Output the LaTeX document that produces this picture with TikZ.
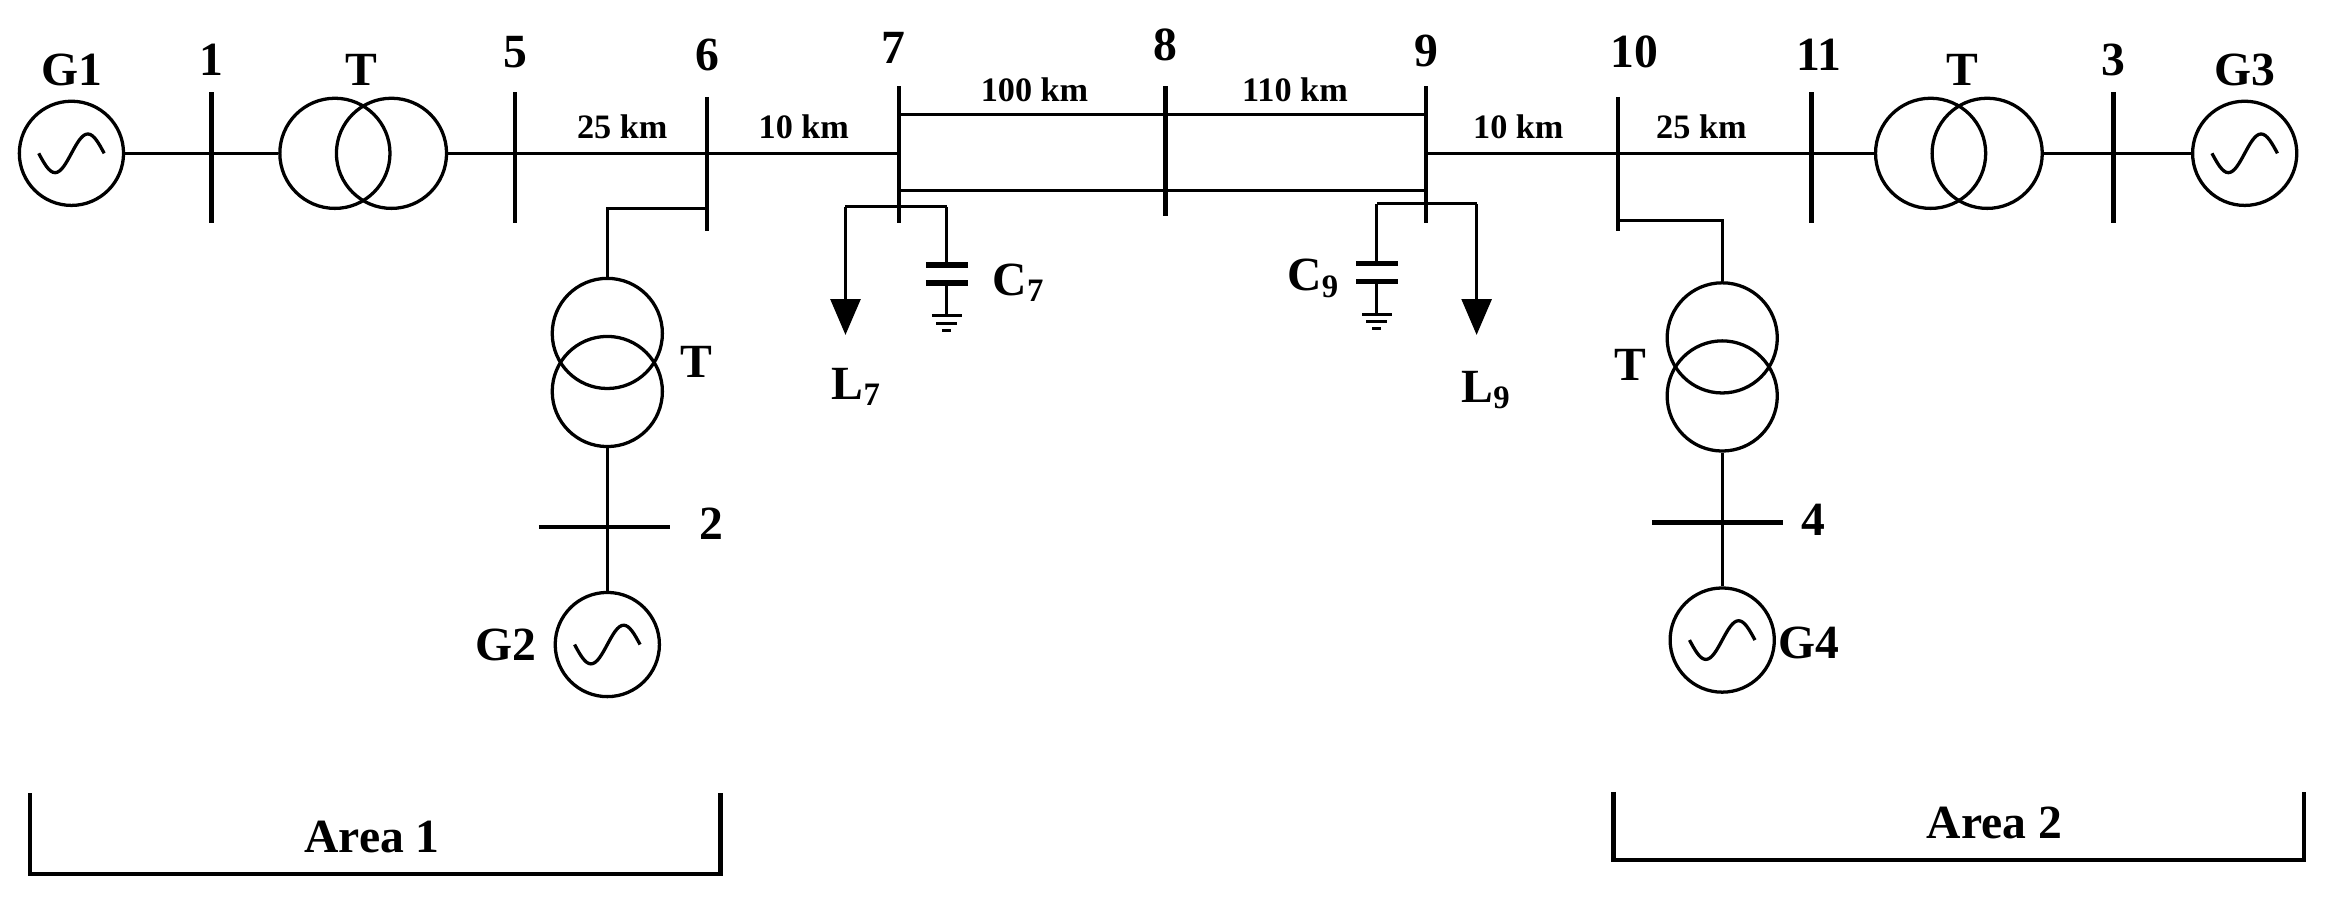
\documentclass[tikz,border=0pt]{standalone}
\usepackage{fontspec}
\setmainfont{Liberation Serif}
\usetikzlibrary{arrows.meta}
\begin{document}
\begin{tikzpicture}[x=0.5pt,y=-0.5pt,
  wire/.style={line width=1pt},
  busbar/.style={line width=1.6pt},
  plate/.style={line width=1.8pt},
  coil/.style={draw,circle,line width=1.1pt,minimum size=37pt,inner sep=0pt},
  gen/.style={draw,circle,line width=1.1pt,minimum size=35pt,inner sep=0pt},
  lbl/.style={font=\fontsize{16}{18}\selectfont\bfseries},
  km/.style={font=\fontsize{11.5}{13}\selectfont\bfseries},
  loadarrow/.style={wire,-{Triangle[length=12pt,width=10pt]}},
  bracket/.style={line width=1.4pt}]
\useasboundingbox (0,0) rectangle (1568,605);
% generators
\node[gen] (g1) at (48,103) {};
\node[gen] (g3) at (1508,103) {};
\node[gen] (g2) at (408,433) {};
\node[gen] (g4) at (1157,430) {};
\foreach \n in {g1,g2,g3,g4}{
  \draw[line width=1.1pt] ([xshift=-11pt]\n.center) sin ([xshift=-5.5pt,yshift=-6.5pt]\n.center) cos (\n.center) sin ([xshift=5.5pt,yshift=6.5pt]\n.center) cos ([xshift=11pt]\n.center);}
% transformers
\node[coil] (t1a) at (225,103) {};
\node[coil] (t1b) at (263,103) {};
\node[coil] (t3a) at (1297,103) {};
\node[coil] (t3b) at (1335,103) {};
\node[coil] (t2a) at (408,224) {};
\node[coil] (t2b) at (408,263) {};
\node[coil] (t4a) at (1157,227) {};
\node[coil] (t4b) at (1157,266) {};
% buses
\coordinate (b1t) at (142,62); \coordinate (b1b) at (142,150);
\coordinate (b5t) at (346,62); \coordinate (b5b) at (346,150);
\coordinate (b6t) at (475,65); \coordinate (b6b) at (475,155);
\coordinate (b7t) at (604,58); \coordinate (b7b) at (604,150);
\coordinate (b8t) at (783,58); \coordinate (b8b) at (783,145);
\coordinate (b9t) at (958,58); \coordinate (b9b) at (958,150);
\coordinate (b10t) at (1087,65); \coordinate (b10b) at (1087,155);
\coordinate (b11t) at (1217,62); \coordinate (b11b) at (1217,150);
\coordinate (b3t) at (1420,62); \coordinate (b3b) at (1420,150);
\foreach \b in {1,5,6,7,8,9,10,11,3}{\draw[busbar] (b\b t) -- (b\b b);}
\coordinate (b2l) at (362,354); \coordinate (b2r) at (450,354);
\coordinate (b4l) at (1110,351); \coordinate (b4r) at (1198,351);
\draw[busbar] (b2l) -- (b2r);
\draw[busbar] (b4l) -- (b4r);
% main line
\draw[wire] (g1.east) -- (t1a.west);
\draw[wire] (t1b.east) -- (604,103);
\draw[wire] (958,103) -- (t3a.west);
\draw[wire] (t3b.east) -- (g3.west);
\draw[wire] (604,77) -- (958,77);
\draw[wire] (604,128) -- (958,128);
% area 1 branch
\draw[wire] (475,140) -| (t2a.north);
\draw[wire] (t2b.south) -- (g2.north);
% area 2 branch
\draw[wire] (1087,148) -| (t4a.north);
\draw[wire] (t4b.south) -- (g4.north);
% loads and capacitors bus 7
\draw[wire] (568,139) -- (636,139);
\coordinate (l7) at (568,225);
\draw[loadarrow] (568,139) -- (l7);
\draw[wire] (636,139) -- (636,178) (636,190) -- (636,212)
  (626,212) -- (646,212) (629,217) -- (643,217) (633,222) -- (639,222);
\draw[plate] (622,178) -- (650,178) (622,190) -- (650,190);
% bus 9
\draw[wire] (925,137) -- (992,137);
\coordinate (l9) at (992,225);
\draw[loadarrow] (992,137) -- (l9);
\draw[wire] (925,137) -- (925,177) (925,189) -- (925,211)
  (915,211) -- (935,211) (918,216) -- (932,216) (922,221) -- (928,221);
\draw[plate] (911,177) -- (939,177) (911,189) -- (939,189);
% labels
\node[lbl] (n7) at (600,32) {7};
\node[lbl] (n8) at (783,30) {8};
\node[lbl] (n9) at (958,34) {9};
\node[lbl] at (48,47) {G1};
\node[lbl] at (142,40) {1};
\node[lbl] at (243,47) {T};
\node[lbl] at (346,35) {5};
\node[lbl] at (475,37) {6};
\node[lbl] at (1098,35) {10};
\node[lbl] at (1222,37) {11};
\node[lbl] at (1318,47) {T};
\node[lbl] at (1420,40) {3};
\node[lbl] at (1508,47) {G3};
\node[lbl] at (468,243) {T};
\node[lbl] at (478,352) {2};
\node[lbl] at (340,433) {G2};
\node[lbl] at (1095,245) {T};
\node[lbl] at (1218,349) {4};
\node[lbl] at (1215,432) {G4};
\node[lbl] at (575,260) {L\raisebox{-0.3ex}{\fontsize{11}{12}\selectfont 7}};
\node[lbl] at (684,190) {C\raisebox{-0.3ex}{\fontsize{11}{12}\selectfont 7}};
\node[lbl] at (998,262) {L\raisebox{-0.3ex}{\fontsize{11}{12}\selectfont 9}};
\node[lbl] at (882,187) {C\raisebox{-0.3ex}{\fontsize{11}{12}\selectfont 9}};
\node[km] at (418,85) {25 km};
\node[km] at (540,85) {10 km};
\node[km] at (695,60) {100 km};
\node[km] at (870,60) {110 km};
\node[km] at (1020,85) {10 km};
\node[km] at (1143,85) {25 km};
% areas
\draw[bracket] (20,533) -- (20,587) -- (484,587) -- (484,533);
\node[lbl] at (250,562) {Area 1};
\draw[bracket] (1084,532) -- (1084,578) -- (1548,578) -- (1548,532);
\node[lbl] at (1340,553) {Area 2};
\end{tikzpicture}
\end{document}
